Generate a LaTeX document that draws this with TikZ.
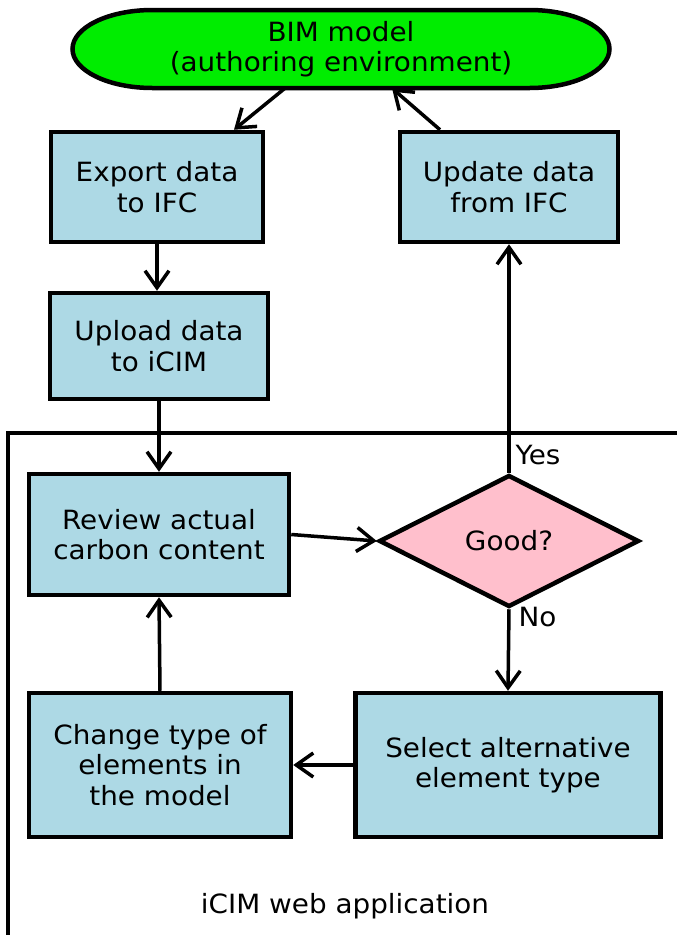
\documentclass[tikz,border=0pt]{standalone}
\usepackage{fontspec}
\setmainfont{DejaVu Sans}[FakeStretch=1.05]
\usepackage{tikz}
\usetikzlibrary{shapes.geometric,arrows.meta}
\definecolor{boxblue}{rgb}{0.68, 0.85, 0.90}
\definecolor{bimgreen}{rgb}{0.0, 0.93, 0.0}
\definecolor{decpink}{rgb}{1.0, 0.75, 0.80}

\begin{document}
\begin{tikzpicture}[x=1pt,y=-1pt,
	txt/.style={font=\fontsize{26.5}{30.5}\selectfont, align=center},
	stepbox/.style={txt, draw, line width=4.5pt, fill=boxblue, inner sep=0pt},
	arr/.style={line width=3.5pt, -{Straight Barb[length=17pt,width=24pt]}}]
		\useasboundingbox (0,0) rectangle (677,935);
		% application frame
		\draw[line width=3.5pt] (8,935) -- (8,433) -- (677,433);
		\node[txt] (webapp) at (345,906) {iCIM web application};
		% BIM model, stadium with elliptic ends
		\coordinate (bimc) at (341,49);
		\filldraw[line width=4.5pt, fill=bimgreen] ([shift={(-188.5,-39)}]bimc) -- ([shift={(188.5,-39)}]bimc)
			arc[start angle=-90, end angle=90, x radius=80, y radius=39] -- ([shift={(-188.5,39)}]bimc)
			arc[start angle=90, end angle=270, x radius=80, y radius=39] -- cycle;
		\node[txt, minimum width=537pt, minimum height=78pt, inner sep=0pt] (bim) at (bimc) {BIM model\\(authoring environment)};
		% nodes
		\node[stepbox, minimum width=212pt, minimum height=110pt] (export) at (157,187) {Export data\\to IFC};
		\node[stepbox, minimum width=218pt, minimum height=110pt] (update) at (509,187) {Update data\\from IFC};
		\node[stepbox, minimum width=218pt, minimum height=106pt] (upload) at (159,346) {Upload data\\to iCIM};
		\node[stepbox, minimum width=260pt, minimum height=121pt] (review) at (159,534.5) {Review actual\\carbon content};
		\node[txt, draw, line width=4.5pt, fill=decpink, diamond, aspect=1.97, minimum width=260pt, minimum height=132pt, inner sep=0pt] (good) at (509,541) {Good?};
		\node[stepbox, minimum width=262pt, minimum height=144pt] (change) at (160,765) {Change type of\\elements in\\the model};
		\node[stepbox, minimum width=305pt, minimum height=144pt] (select) at (508,765) {Select alternative\\element type};
		\node[txt, anchor=west] (yes) at (512,455) {Yes};
		\node[txt, anchor=west] (no) at (515,617) {No};
		% connectors
		\draw[arr] ([xshift=-56pt]bim.south) -- ([xshift=77pt]export.north);
		\draw[arr] ([xshift=-69pt]update.north) -- ([xshift=51pt]bim.south);
		\draw[arr] (export.south) -- (export.south |- upload.north);
		\draw[arr] (upload.south) -- (review.north);
		\draw[arr] (review.east) -- (good.west);
		\draw[arr] (good.north) -- (update.south);
		\draw[arr] (good.south) -- (select.north);
		\draw[arr] (select.west) -- (change.east);
		\draw[arr] (change.north) -- (review.south);
\end{tikzpicture}
\end{document}
